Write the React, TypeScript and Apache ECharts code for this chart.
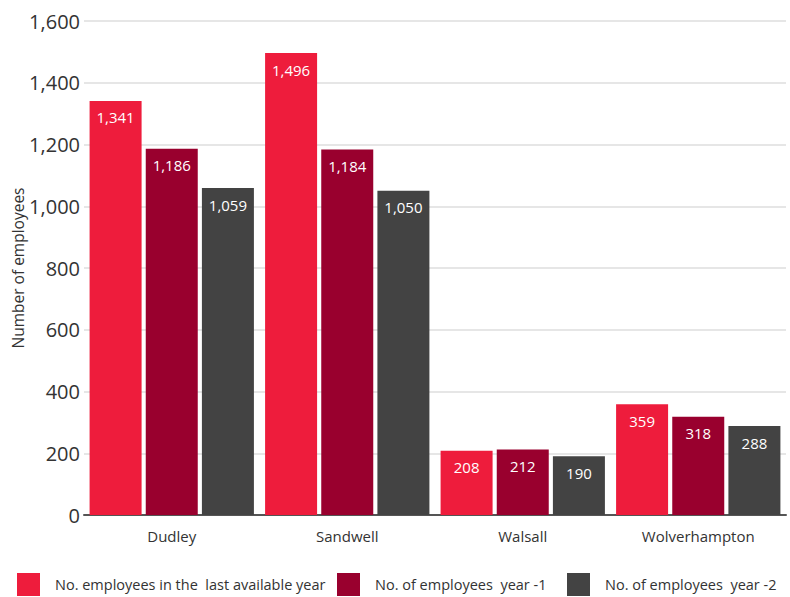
import React, { useEffect, useRef } from "react";
import * as echarts from "echarts";

const categories = ["Dudley", "Sandwell", "Walsall", "Wolverhampton"];
const seriesNames = [
  "No. employees in the  last available year",
  "No. of employees  year -1",
  "No. of employees  year -2",
];
const lastYear = [1341, 1496, 208, 359];
const yearMinus1 = [1186, 1184, 212, 318];
const yearMinus2 = [1059, 1050, 190, 288];
const colors = ["#EE1C3C", "#99002E", "#434343"];
const legendLefts = [17, 337, 567];

const FONT = "'Open Sans', sans-serif";

export default function App() {
  const ref = useRef<HTMLDivElement>(null);
  useEffect(() => {
    if (!ref.current) return;
    const chart = echarts.init(ref.current, null, { renderer: "svg" });
    const values = [lastYear, yearMinus1, yearMinus2];
    chart.setOption({
      animation: false,
      textStyle: { fontFamily: FONT },
      grid: { left: 84, right: 4, top: 21, bottom: 82, outerBoundsMode: "none", containLabel: false },
      legend: seriesNames.map((n, i) => ({
        data: [n],
        left: legendLefts[i],
        top: 573,
        padding: 0,
        itemWidth: 23,
        itemHeight: 23,
        itemGap: 0,
        icon: "rect",
        textStyle: { fontSize: 14.5, color: "#333", fontFamily: FONT, padding: [0, 0, 0, 10] },
      })),
      xAxis: {
        type: "category",
        data: categories,
        axisTick: { show: false },
        axisLine: { lineStyle: { color: "#555", width: 2 } },
        axisLabel: { fontSize: 15, color: "#333", margin: 13, fontFamily: FONT },
      },
      yAxis: {
        type: "value",
        min: 0,
        max: 1600,
        interval: 200,
        name: "Number of employees",
        nameLocation: "middle",
        nameGap: 58,
        nameMoveOverlap: false,
        nameTextStyle: { fontSize: 15.5, color: "#333", fontFamily: FONT },
        axisLine: { show: false },
        axisTick: { show: false },
        axisLabel: {
          fontSize: 20,
          color: "#333",
          margin: 4,
          fontFamily: FONT,
          formatter: (v: number) => v.toLocaleString("en-US"),
        },
        splitLine: { lineStyle: { color: "#e6e6e6", width: 2 } },
      },
      series: seriesNames.map((n, i) => ({
        name: n,
        type: "bar",
        data: values[i],
        barWidth: 52,
        barGap: "8%",
        itemStyle: { color: colors[i] },
        label: {
          show: true,
          position: "insideTop",
          distance: 9,
          color: "#fff",
          fontSize: 15,
          fontFamily: FONT,
          formatter: (p: any) => Number(p.value).toLocaleString("en-US"),
        },
      })),
    });
    return () => chart.dispose();
  }, []);
  return (
    <div
      ref={ref}
      style={{ position: "absolute", left: 0, top: 0, width: 790, height: 597 }}
    />
  );
}
